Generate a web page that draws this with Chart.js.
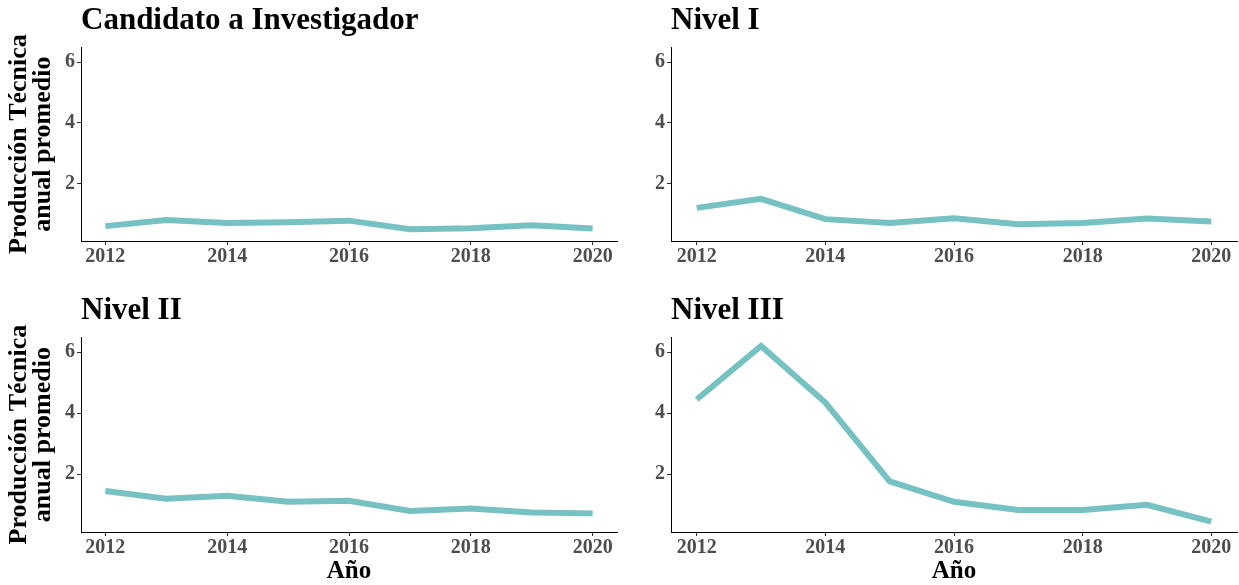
<!DOCTYPE html>
<html>
<head>
<meta charset="utf-8">
<script src="https://cdn.jsdelivr.net/npm/chart.js@4.4.1/dist/chart.umd.min.js"></script>
<style>
  body { margin: 0; background: #fff; width: 1239px; height: 585px; position: relative; overflow: hidden; }
  canvas { position: absolute; }
</style>
</head>
<body>
<canvas id="panel1" width="620" height="290" style="left:0;top:0"></canvas>
<canvas id="panel2" width="619" height="290" style="left:620px;top:0"></canvas>
<canvas id="panel3" width="620" height="295" style="left:0;top:290px"></canvas>
<canvas id="panel4" width="619" height="295" style="left:620px;top:290px"></canvas>
<script>
// Data
const years = [2012, 2013, 2014, 2015, 2016, 2017, 2018, 2019, 2020];
const xTicks = [2012, 2014, 2016, 2018, 2020];
const yTicks = [2, 4, 6];
const candidato = [0.60, 0.80, 0.70, 0.73, 0.78, 0.50, 0.53, 0.63, 0.52];
const nivelI = [1.20, 1.50, 0.83, 0.70, 0.86, 0.66, 0.70, 0.85, 0.75];
const nivelII = [1.45, 1.20, 1.30, 1.10, 1.13, 0.80, 0.88, 0.75, 0.72];
const nivelIII = [4.45, 6.20, 4.35, 1.77, 1.10, 0.83, 0.83, 1.00, 0.45];
const yTitle = ["Producción Técnica", "anual promedio"];
const xTitle = "Año";

const lineColor = "#76C1C1";
const tickColor = "#4D4D4D";
const fontFamily = "'Liberation Serif', 'Times New Roman', serif";

Chart.defaults.font.family = fontFamily;

// Build one facet panel; plot area edges are given in canvas pixels
function makePanel(id, title, values, box) {
  const canvas = document.getElementById(id);
  const W = canvas.width, H = canvas.height;

  return new Chart(canvas, {
    type: "line",
    data: {
      datasets: [{
        data: years.map((yr, i) => ({ x: yr, y: values[i] })),
        borderColor: lineColor,
        borderWidth: 6,
        pointRadius: 0,
        tension: 0,
        clip: false,
      }],
    },
    options: {
      responsive: false,
      animation: false,
      layout: { padding: { left: 0, right: W - box.right, top: 0, bottom: 0 } },
      plugins: {
        legend: { display: false },
        tooltip: { enabled: false },
        title: {
          display: true,
          text: title,
          align: "start",
          fullSize: false,
          color: "#000",
          font: { size: 31, weight: "bold" },
          padding: { top: 2, bottom: 8 },
        },
      },
      scales: {
        x: {
          type: "linear",
          min: 2011.6,
          max: 2020.4,
          afterBuildTicks: (s) => { s.ticks = xTicks.map((v) => ({ value: v })); },
          afterFit: (s) => { s.height = H - box.bottom; },
          ticks: {
            callback: (v) => String(v),
            color: tickColor,
            font: { size: 20, weight: "bold" },
            padding: 0,
            maxRotation: 0,
            autoSkip: false,
          },
          grid: { drawOnChartArea: false, tickLength: 4, color: "#333" },
          border: { color: "#000", width: 1 },
          title: {
            display: box.xTitle,
            text: xTitle,
            color: "#000",
            font: { size: 25, weight: "bold" },
            padding: { top: 0, bottom: -2 },
          },
        },
        y: {
          min: 0.11,
          max: 6.49,
          afterBuildTicks: (s) => { s.ticks = yTicks.map((v) => ({ value: v })); },
          afterFit: (s) => { s.width = box.left; },
          ticks: {
            color: tickColor,
            font: { size: 20, weight: "bold" },
            padding: 2,
          },
          grid: { drawOnChartArea: false, tickLength: 4, color: "#333" },
          border: { color: "#000", width: 1 },
          title: {
            display: box.yTitle,
            text: yTitle,
            color: "#000",
            font: { size: 26, weight: "bold", lineHeight: 0.9 },
            padding: { top: 8, bottom: 0 },
          },
        },
      },
    },
  });
}

makePanel("panel1", "Candidato a Investigador", candidato, { left: 81, right: 617, bottom: 241, yTitle: true, xTitle: false });
makePanel("panel2", "Nivel I", nivelI, { left: 51, right: 617, bottom: 241, yTitle: false, xTitle: false });
makePanel("panel3", "Nivel II", nivelII, { left: 81, right: 617, bottom: 242, yTitle: true, xTitle: true });
makePanel("panel4", "Nivel III", nivelIII, { left: 51, right: 617, bottom: 242, yTitle: false, xTitle: true });
</script>
</body>
</html>
